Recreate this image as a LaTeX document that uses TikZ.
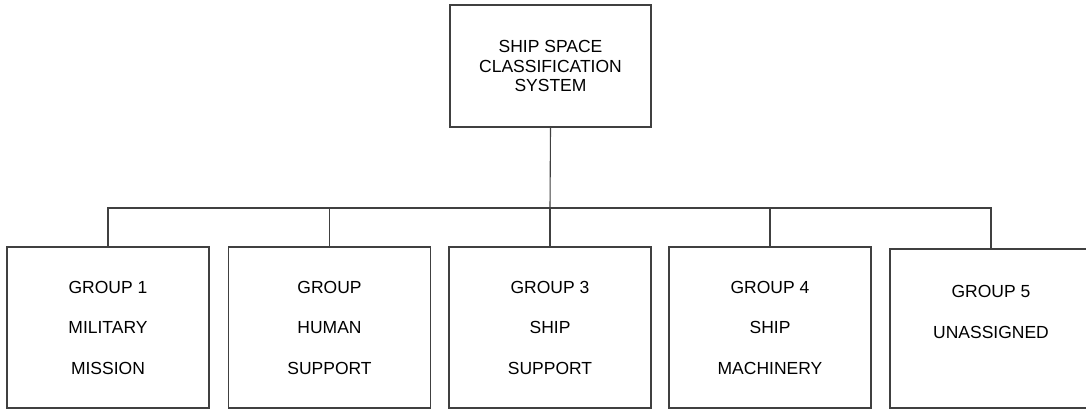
\documentclass[tikz,border=0pt]{standalone}
\usepackage{fontspec}
\setmainfont{Liberation Sans}
\begin{document}
\begin{tikzpicture}[x=1pt,y=-1pt,
  linkline/.style={draw=black!75,line width=1.1pt},
  orgbox/.style={draw=black!75,line width=1.1pt,rectangle,minimum width=202pt,inner sep=0pt,align=center,fill=white},
  topfont/.style={font=\fontsize{17.5}{19.5}\selectfont},
  groupfont/.style={font=\fontsize{17.5}{40.5}\selectfont}]
\useasboundingbox (0,0) rectangle (1086,410);
\clip (0,0) rectangle (1086,410);
\fill[white] (0,0) rectangle (1086,410);
\node[orgbox,topfont,minimum width=201pt,minimum height=122pt] (top) at (550.5,66) {SHIP SPACE\\CLASSIFICATION\\SYSTEM};
\coordinate (bus) at (550,208);
\node[orgbox,groupfont,minimum height=161pt] (g1) at (108,327.5) {GROUP 1\\MILITARY\\MISSION};
\node[orgbox,groupfont,minimum height=161pt] (g2) at (329.5,327.5) {GROUP\\HUMAN\\SUPPORT};
\node[orgbox,groupfont,minimum height=161pt] (g3) at (550,327.5) {GROUP 3\\SHIP\\SUPPORT};
\node[orgbox,groupfont,minimum height=161pt] (g4) at (770,327.5) {GROUP 4\\SHIP\\MACHINERY};
\node[orgbox,minimum height=159pt] (g5) at (991,328.5) {};
\node[groupfont,align=center,inner sep=0pt] (g5text) at (991,312) {GROUP 5\\UNASSIGNED};
\draw[linkline] (top.south) -- (bus);
\foreach \g in {g1,g2,g3,g4,g5} {
  \draw[linkline] (\g.north) |- (bus);
}
\end{tikzpicture}
\end{document}
